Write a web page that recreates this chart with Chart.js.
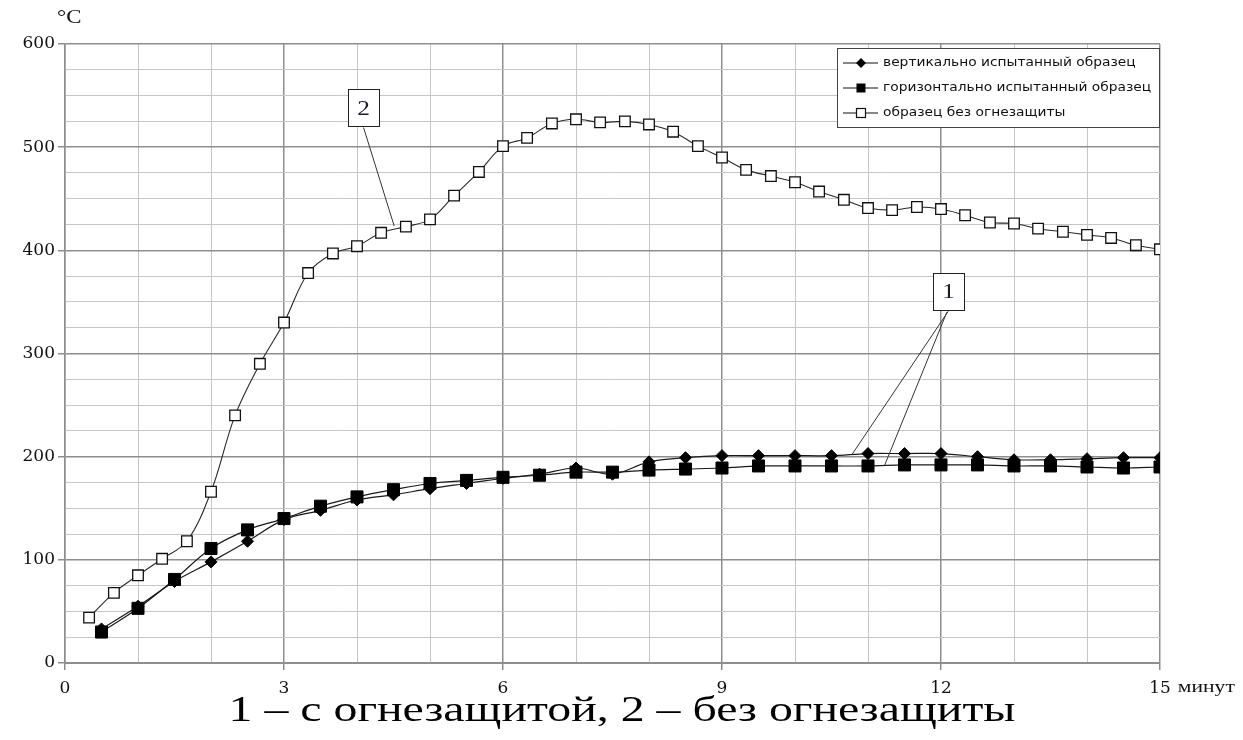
<!DOCTYPE html>
<html><head><meta charset="utf-8">
<script src="https://cdn.jsdelivr.net/npm/chart.js@4.4.1/dist/chart.umd.min.js"></script>
<style>html,body{margin:0;padding:0;background:#fff;}#wrap{width:1243px;height:740px;}</style>
</head><body><div id="wrap"><canvas id="c" width="1243" height="740"></canvas></div>
<script>
// ---- data ----
const seriesLabels = ['вертикально испытанный образец', 'горизонтально испытанный образец', 'образец без огнезащиты'];
const minutesProtected = [0.5,1,1.5,2,2.5,3,3.5,4,4.5,5,5.5,6,6.5,7,7.5,8,8.5,9,9.5,10,10.5,11,11.5,12,12.5,13,13.5,14,14.5,15];
const verticalSample   = [33,55,79,98,118,139,148,158,163,169,174,179,183,189,183,195,199,201,201,201,201,203,203,203,200,197,197,198,199,199];
const horizontalSample = [30,53,81,111,129,140,152,161,168,174,177,180,182,185,185,187,188,189,191,191,191,191,192,192,192,191,191,190,189,190];
const minutesUnprotected = [0.33,0.67,1,1.33,1.67,2,2.33,2.67,3,3.33,3.67,4,4.33,4.67,5,5.33,5.67,6,6.33,6.67,7,7.33,7.67,8,8.33,8.67,9,9.33,9.67,10,10.33,10.67,11,11.33,11.67,12,12.33,12.67,13,13.33,13.67,14,14.33,14.67,15];
const unprotectedSample = [44,68,85,101,118,166,240,290,330,378,397,404,417,423,430,453,476,501,509,523,527,524,525,522,515,501,490,478,472,466,457,449,441,439,442,440,434,427,426,421,418,415,412,405,401];
const xTickLabels = {0:'0',3:'3',6:'6',9:'9',12:'12',15:'15'};
const xUnit = 'минут';
const yUnit = '°C';
const yTickLabels = {0:'0',100:'100',200:'200',300:'300',400:'400',500:'500',600:'600'};
const caption = '1 – с огнезащитой, 2 – без огнезащиты';
// callouts (in data units: minutes, °C)
const callouts = [
  {text:'2', box:[3.88,4.30,520,556], lines:[[4.09,519,4.51,423.5]]},
  {text:'1', box:[11.89,12.32,342,378], lines:[[12.10,341,10.78,202],[12.08,340,11.23,192]]}
];

const SX = 1.27; // horizontal text stretch of the reference
function sText(ctx, text, x, y, font, sx, align, color){
  ctx.save(); ctx.font = font; ctx.fillStyle = color || '#111'; ctx.textBaseline = 'middle'; ctx.textAlign = 'left';
  const w = ctx.measureText(text).width * sx;
  const left = align === 'center' ? x - w/2 : (align === 'right' ? x - w : x);
  ctx.translate(left, y); ctx.scale(sx, 1); ctx.fillText(text, 0, 0); ctx.restore();
  return w;
}

const overlay = {
  id: 'overlay',
  afterDraw(chart){
    const ctx = chart.ctx, xs = chart.scales.x, ys = chart.scales.y;
    // unit labels
    sText(ctx, yUnit, 57, 18, '18px "Liberation Serif"', SX, 'left', '#111');
    ctx.save(); ctx.font = '17px "DejaVu Serif"';
    const w15 = ctx.measureText('15').width; ctx.restore();
    sText(ctx, xUnit, xs.getPixelForValue(15) + w15/2 + 7, 688, '17px "Liberation Serif"', SX, 'left', '#111');
    // caption
    const capFont = '35px "Liberation Serif"';
    ctx.save(); ctx.font = capFont;
    const cw = ctx.measureText(caption).width; ctx.restore();
    sText(ctx, caption, 622, 712, capFont, 787/cw, 'center', '#000');
    // callouts
    callouts.forEach(c => {
      ctx.save(); ctx.strokeStyle = '#333'; ctx.lineWidth = 1;
      c.lines.forEach(l => {
        ctx.beginPath(); ctx.moveTo(xs.getPixelForValue(l[0]), ys.getPixelForValue(l[1]));
        ctx.lineTo(xs.getPixelForValue(l[2]), ys.getPixelForValue(l[3])); ctx.stroke();
      });
      const x0 = xs.getPixelForValue(c.box[0]), x1 = xs.getPixelForValue(c.box[1]);
      const y0 = ys.getPixelForValue(c.box[3]), y1 = ys.getPixelForValue(c.box[2]);
      ctx.fillStyle = '#fff'; ctx.fillRect(x0, y0, x1-x0, y1-y0);
      ctx.strokeStyle = '#222'; ctx.strokeRect(Math.round(x0)+0.5, Math.round(y0)+0.5, Math.round(x1-x0), Math.round(y1-y0));
      ctx.restore();
      sText(ctx, c.text, (x0+x1)/2, (y0+y1)/2 + 1, '22px "Liberation Serif"', 1.15, 'center', '#1a1a2a');
    });
    // legend
    const lx0 = 837, ly0 = 48, lx1 = 1160, ly1 = 128;
    ctx.save(); ctx.fillStyle = '#fff'; ctx.fillRect(lx0, ly0, lx1-lx0, ly1-ly0);
    ctx.strokeStyle = '#444'; ctx.lineWidth = 1; ctx.strokeRect(lx0+0.5, ly0+0.5, lx1-lx0-1, ly1-ly0-1); ctx.restore();
    const rows = [63, 88, 113];
    chart.data.datasets.forEach((ds, i) => {
      const y = rows[i];
      ctx.save(); ctx.strokeStyle = '#111'; ctx.lineWidth = 1.2;
      ctx.beginPath(); ctx.moveTo(843, y); ctx.lineTo(878, y); ctx.stroke();
      const mx = 861;
      if (ds.pointStyle === 'rectRot') {
        ctx.fillStyle = '#000'; ctx.beginPath();
        ctx.moveTo(mx, y-5); ctx.lineTo(mx+5, y); ctx.lineTo(mx, y+5); ctx.lineTo(mx-5, y); ctx.closePath(); ctx.fill();
      } else if (ds.pointBackgroundColor === '#000') {
        ctx.fillStyle = '#000'; ctx.fillRect(mx-4.5, y-4.5, 9, 9);
      } else {
        ctx.fillStyle = '#fff'; ctx.fillRect(mx-4.5, y-4.5, 9, 9);
        ctx.strokeStyle = '#111'; ctx.strokeRect(mx-4.5, y-4.5, 9, 9);
      }
      ctx.restore();
      sText(ctx, ds.label, 883, y, '11.5px "DejaVu Sans"', 1.2, 'left', '#111');
    });
  }
};

const majorGrid = '#8e8e8e', minorGrid = '#c6c6c6';
new Chart(document.getElementById('c').getContext('2d'), {
  type: 'line',
  data: { datasets: [
    { label: seriesLabels[0], data: minutesProtected.map((x,i)=>({x, y: verticalSample[i]})),
      borderColor:'#1a1a1a', borderWidth:1.2, pointStyle:'rectRot', pointRadius:6, pointBackgroundColor:'#000', pointBorderColor:'#000', pointBorderWidth:1, tension:0.35, order:1 },
    { label: seriesLabels[1], data: minutesProtected.map((x,i)=>({x, y: horizontalSample[i]})),
      borderColor:'#1a1a1a', borderWidth:1.2, pointStyle:'rect', pointRadius:8.5, pointBackgroundColor:'#000', pointBorderColor:'#000', pointBorderWidth:1, tension:0.35, order:2 },
    { label: seriesLabels[2], data: minutesUnprotected.map((x,i)=>({x, y: unprotectedSample[i]})),
      borderColor:'#2a2a2a', borderWidth:1.1, pointStyle:'rect', pointRadius:7.5, pointBackgroundColor:'#fff', pointBorderColor:'#111', pointBorderWidth:1.3, tension:0.35, order:3 }
  ]},
  options: {
    responsive:false, animation:false, devicePixelRatio:1,
    layout:{ padding:{ left:0, right:83, top:44, bottom:37 } },
    plugins:{ legend:{display:false}, tooltip:{enabled:false} },
    scales:{
      x:{ type:'linear', min:0, max:15,
        afterFit(s){ s.height = 40; },
        ticks:{ stepSize:1, autoSkip:false, maxRotation:0, padding:8, color:'#111', font:{family:'DejaVu Serif', size:17},
          callback:(v)=> xTickLabels[v] !== undefined ? xTickLabels[v] : '' },
        grid:{ color:(c)=> (c.tick && c.tick.value % 3 === 0) ? majorGrid : minorGrid,
          lineWidth:(c)=> (c.tick && c.tick.value % 3 === 0) ? 1.5 : 1,
          tickLength:7, tickColor:(c)=> (c.tick && c.tick.value % 3 === 0) ? majorGrid : 'rgba(0,0,0,0)' },
        border:{ color:majorGrid, width:2 } },
      y:{ min:0, max:600,
        afterFit(s){ s.width = 65; },
        ticks:{ stepSize:25, autoSkip:false, padding:3, color:'#111', font:{family:'DejaVu Serif', size:17},
          callback:(v)=> yTickLabels[v] !== undefined ? yTickLabels[v] : '' },
        grid:{ color:(c)=> (c.tick && c.tick.value % 100 === 0) ? majorGrid : minorGrid,
          lineWidth:(c)=> (c.tick && c.tick.value % 100 === 0) ? 1.5 : 1,
          tickLength:7, tickColor:(c)=> (c.tick && c.tick.value % 100 === 0) ? majorGrid : 'rgba(0,0,0,0)' },
        border:{ color:majorGrid, width:1.5 } }
    }
  },
  plugins:[overlay]
});
</script></body></html>
